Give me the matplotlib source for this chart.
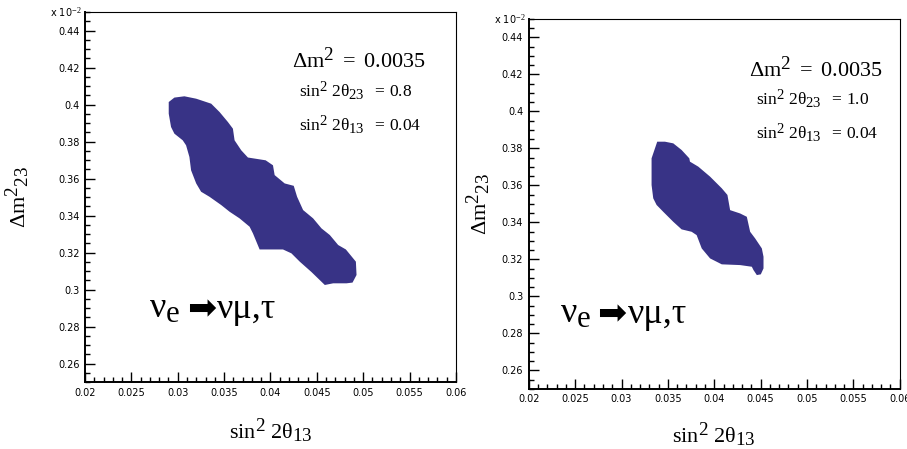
import matplotlib
matplotlib.use("Agg")
import matplotlib.pyplot as plt
import matplotlib._mathtext as _mt
from matplotlib.ticker import MultipleLocator, FixedLocator, FixedFormatter

_mt.SHRINK_FACTOR = 0.85
plt.rcParams['mathtext.fontset'] = 'custom'
plt.rcParams['mathtext.rm'] = 'Liberation Serif'
plt.rcParams['mathtext.it'] = 'Liberation Serif:italic'
plt.rcParams['mathtext.bf'] = 'Liberation Serif:bold'

# ---- data ----
x_ticks = [0.02, 0.025, 0.03, 0.035, 0.04, 0.045, 0.05, 0.055, 0.06]
x_tick_labels = ["0.02", "0.025", "0.03", "0.035", "0.04", "0.045", "0.05", "0.055", "0.06"]
y_ticks = [0.26, 0.28, 0.30, 0.32, 0.34, 0.36, 0.38, 0.40, 0.42, 0.44]
y_tick_labels = ["0.26", "0.28", "0.3", "0.32", "0.34", "0.36", "0.38", "0.4", "0.42", "0.44"]

# allowed region, sin^2 2theta23 = 0.8
left_x = [0.02903, 0.02964, 0.03072, 0.03199, 0.03361, 0.03451, 0.03541, 0.03595, 0.03613,
          0.03685, 0.03757, 0.03948, 0.04027, 0.04045, 0.04153, 0.04251, 0.04287, 0.04352,
          0.04460, 0.04550, 0.04640, 0.04730, 0.04813, 0.04921, 0.04928, 0.04885, 0.04820,
          0.04676, 0.04586, 0.04442, 0.04316, 0.04226, 0.04135, 0.03883, 0.03811, 0.03775,
          0.03667, 0.03559, 0.03469, 0.03342, 0.03252, 0.03199, 0.03144, 0.03126, 0.03090,
          0.03054, 0.02964, 0.02928, 0.02903]
left_y = [0.4014, 0.4038, 0.4045, 0.4032, 0.4005, 0.3960, 0.3906, 0.3870, 0.3807,
          0.3753, 0.3714, 0.3699, 0.3672, 0.3619, 0.3574, 0.3561, 0.3502, 0.3430,
          0.3385, 0.3331, 0.3295, 0.3241, 0.3217, 0.3151, 0.3079, 0.3038, 0.3034,
          0.3034, 0.3025, 0.3095, 0.3151, 0.3196, 0.3217, 0.3217, 0.3304, 0.3340,
          0.3385, 0.3421, 0.3457, 0.3502, 0.3529, 0.3574, 0.3645, 0.3717, 0.3780,
          0.3807, 0.3843, 0.3879, 0.3951]

# allowed region, sin^2 2theta23 = 1.0
right_x = [0.03385, 0.03468, 0.03558, 0.03648, 0.03731, 0.03738, 0.03828, 0.03955, 0.04081,
           0.04142, 0.04171, 0.04279, 0.04351, 0.04387, 0.04441, 0.04513, 0.04531, 0.04531,
           0.04502, 0.04459, 0.04423, 0.04405, 0.04279, 0.04081, 0.03955, 0.03865, 0.03810,
           0.03756, 0.03648, 0.03558, 0.03450, 0.03378, 0.03342, 0.03324, 0.03324]
right_y = [0.3836, 0.3836, 0.3827, 0.3791, 0.3746, 0.3728, 0.3701, 0.3647, 0.3584,
           0.3548, 0.3466, 0.3448, 0.3430, 0.3349, 0.3313, 0.3259, 0.3214, 0.3151,
           0.3119, 0.3115, 0.3142, 0.3160, 0.3169, 0.3173, 0.3205, 0.3259, 0.3331,
           0.3349, 0.3362, 0.3403, 0.3457, 0.3494, 0.3530, 0.3602, 0.3746]

dm2_text = r"$\mathrm{Δm}^{2}\mathrm{\ =\ 0.0035}$"
s23_texts = [r"$\mathrm{sin}^{2}\mathrm{\ 2θ}_{23}\mathrm{\ \ =\,0.8}$",
             r"$\mathrm{sin}^{2}\mathrm{\ 2θ}_{23}\mathrm{\ \ =\,1.0}$"]
s13_text = r"$\mathrm{sin}^{2}\mathrm{\ 2θ}_{13}\mathrm{\ \ =\,0.04}$"
nu_e_text = r"$\mathrm{ν}_{\mathrm{e}}$"
arrow_text = "➡"
nu_mt_text = "νμ,τ"
xlabel = r"$\mathrm{sin}^{2}\mathrm{\ 2θ}_{13}$"
ylabel = r"$\mathrm{Δm}^{2}{}_{23}$"

fill_color = "#383386"

fig = plt.figure(figsize=(9.07, 4.49), dpi=100)
axes_rects = [[0.0937, 0.149, 0.409, 0.824], [0.583, 0.134, 0.409, 0.824]]
polys = [(left_x, left_y), (right_x, right_y)]
# layout (data coords): dm2, s23, s13, nu
txt_pos = [
    dict(x=0.04229, ydm=0.4196, xs=0.04305, y23=0.4039, y13=0.3856, xn=0.02694, yn=0.2847),
    dict(x=0.04376, ydm=0.4185, xs=0.04452, y23=0.4034, y13=0.3850, xn=0.02333, yn=0.2856),
]
ylabel_x = [-0.143, -0.096]
xlabel_pad = [14, 12]

for i, rect in enumerate(axes_rects):
    ax = fig.add_axes(rect)
    px, py = polys[i]
    ax.fill(px, py, color=fill_color, lw=0)
    ax.set_xlim(0.02, 0.06)
    ax.set_ylim(0.25, 0.45)
    ax.xaxis.set_major_locator(FixedLocator(x_ticks))
    ax.xaxis.set_major_formatter(FixedFormatter(x_tick_labels))
    ax.xaxis.set_minor_locator(MultipleLocator(0.001))
    ax.yaxis.set_major_locator(FixedLocator(y_ticks))
    ax.yaxis.set_major_formatter(FixedFormatter(y_tick_labels))
    ax.yaxis.set_minor_locator(MultipleLocator(0.005))
    ax.tick_params(which='both', direction='in', top=False, right=False,
                   labelsize=7, width=1.0, colors='black')
    ax.tick_params(which='major', length=7, pad=4)
    ax.tick_params(which='minor', length=3.5)
    for lab in ax.get_xticklabels() + ax.get_yticklabels():
        lab.set_family('DejaVu Sans')
    for side in ['left', 'bottom']:
        ax.spines[side].set_linewidth(1.4)
    for side in ['top', 'right']:
        ax.spines[side].set_linewidth(0.8)
    ax.text(-0.008, 1.0, r"x 10$^{-2}$", transform=ax.transAxes, ha='right',
            va='center', fontsize=7, family='DejaVu Sans')

    tp = txt_pos[i]
    ax.text(tp['x'], tp['ydm'], dm2_text, fontsize=16, va='baseline', ha='left')
    ax.text(tp['xs'], tp['y23'], s23_texts[i], fontsize=12.5, va='baseline', ha='left')
    ax.text(tp['xs'], tp['y13'], s13_text, fontsize=12.5, va='baseline', ha='left')
    ax.text(tp['xn'], tp['yn'], nu_e_text, fontsize=26, va='baseline', ha='left')
    ax.annotate(arrow_text, xy=(tp['xn'], tp['yn']), xycoords='data',
                xytext=(27, 6.5), textcoords='offset points', fontsize=25,
                va='center', ha='left', family='DejaVu Sans')
    ax.annotate(nu_mt_text, xy=(tp['xn'], tp['yn']), xycoords='data',
                xytext=(49, 0), textcoords='offset points', fontsize=26,
                va='baseline', ha='left', family='Liberation Serif')

    ax.set_xlabel(xlabel, fontsize=16, labelpad=xlabel_pad[i])
    ax.set_ylabel(ylabel, fontsize=16)
    ax.yaxis.set_label_coords(ylabel_x[i], 0.5)

fig.savefig("out.png", dpi=100)
